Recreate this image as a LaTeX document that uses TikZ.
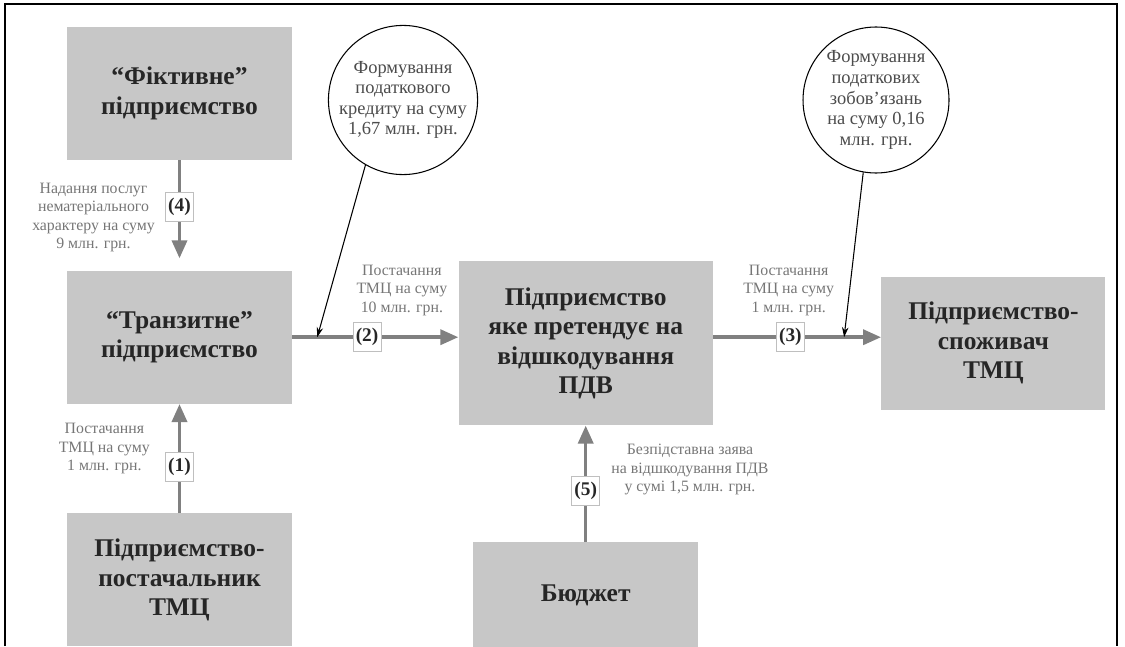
\documentclass[tikz,border=0pt]{standalone}
\usepackage{fontspec}
\setmainfont{Liberation Serif}
\usepackage{tikz}
\usetikzlibrary{positioning,arrows.meta}
\tikzset{>={Triangle[length=3.6mm,width=3mm]}}
\definecolor{boxgray}{RGB}{199,199,199}
\definecolor{arrowgray}{RGB}{128,128,128}
\definecolor{labelgray}{RGB}{118,118,118}
\definecolor{textdark}{RGB}{38,38,38}

\begin{document}
\begin{tikzpicture}[
    firm/.style={rectangle, fill=boxgray, text=textdark, align=center, font=\fontsize{14.5}{16.8}\selectfont\bfseries, minimum width=4.5cm, minimum height=2.66cm, inner sep=0pt},
    note/.style={circle, draw=black, line width=0.6pt, fill=white, align=center, text=black!70, font=\fontsize{10.5}{11.7}\selectfont, minimum size=2.96cm, inner sep=0pt},
    num/.style={rectangle, draw=black!25, line width=0.5pt, fill=white, text=black!85, font=\fontsize{11}{13}\selectfont\bfseries, minimum width=0.56cm, minimum height=0.58cm, inner sep=1pt},
    lbl/.style={align=center, text=labelgray, font=\fontsize{9}{10.5}\selectfont, inner sep=0pt},
    flow/.style={->, color=arrowgray, line width=2pt},
    hint/.style={-{Stealth[length=2mm,width=1.3mm]}, color=black, line width=0.6pt}]
    \useasboundingbox (0,0) rectangle (22.5,12.92);
    \clip (0,0) rectangle (22.5,12.92);
    \draw[line width=1.5pt] (0.1,0) -- (0.1,12.84) -- (22.34,12.84) -- (22.34,0);
    \node[firm] (fict) at (3.59,11.05) {“Фіктивне”\\підприємство};
    \node[firm] (trans) [below=2.2cm of fict] {“Транзитне”\\підприємство};
    \node[firm] (suppl) [below=2.18cm of trans] {Підприємство-\\постачальник\\ТМЦ};
    \node[firm, minimum width=5.08cm, minimum height=3.28cm] (claim) [right=3.32cm of trans, yshift=-0.12cm] {Підприємство\\яке претендує на\\відшкодування\\ПДВ};
    \node[firm, minimum width=4.48cm] (cons) [right=3.36cm of claim] {Підприємство-\\споживач\\ТМЦ};
    \node[firm, minimum height=2.12cm] (budget) [below=2.32cm of claim] {Бюджет};
    \node[note] (credit) at (8.06,10.92) {Формування\\податкового\\кредиту на суму\\1,67 млн. грн.};
    \node[note, minimum size=2.92cm] (liab) at (17.52,10.92) {Формування\\податкових\\зобов’язань\\на суму 0,16\\млн. грн.};
    \path (trans.east) -- coordinate[pos=0.15] (in2) (trans.east -| claim.west);
    \path (claim.east |- trans.east) -- coordinate[pos=0.78] (in3) (cons.west |- trans.east);
    \path[flow] (fict) edge[shorten >=2.4mm] node[num, pos=0.42] {(4)} node[lbl, left=4.6mm, pos=0.52] {Надання послуг\\нематеріального\\характеру на суму\\9 млн. грн.} (trans)
                (suppl) edge node[num, pos=0.42] {(1)} node[lbl, left=5.6mm, pos=0.59] {Постачання\\ТМЦ на суму\\1 млн. грн.} (trans)
                (trans.east) edge node[num, pos=0.45] {(2)} node[lbl, above=4mm, pos=0.66] {Постачання\\ТМЦ на суму\\10 млн. грн.} (trans.east -| claim.west)
                (claim.east |- trans.east) edge node[num, pos=0.46] {(3)} node[lbl, above=4mm, pos=0.45] {Постачання\\ТМЦ на суму\\1 млн. грн.} (cons.west |- trans.east)
                (budget) edge node[num, pos=0.44] {(5)} node[lbl, right=4.8mm, pos=0.62] {Безпідставна заява\\на відшкодування ПДВ\\у сумі 1,5 млн. грн.} (claim);
    \draw[hint] (credit.240) -- (in2);
    \draw[hint] (liab.260) -- (in3);
\end{tikzpicture}
\end{document}
